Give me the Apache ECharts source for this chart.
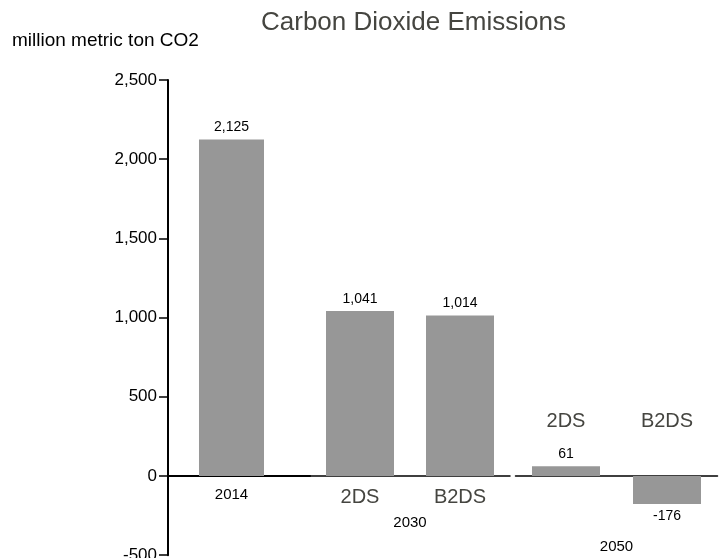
<!DOCTYPE html>
<html><head><meta charset="utf-8">
<script src="https://cdn.jsdelivr.net/npm/echarts@6/dist/echarts.min.js"></script>
<style>html,body{margin:0;padding:0;background:#fff}#c{width:728px;height:558px}</style>
</head><body><div id="c"></div>
<script>
// ---- data ----
const chartTitle = 'Carbon Dioxide Emissions';
const yAxisTitle = 'million metric ton CO2';
const cats2014 = ['2014'];
const cats2030 = ['2DS', 'B2DS'];
const cats2050 = ['2DS', 'B2DS'];
const group2030 = ['2030'];
const group2050 = ['2050'];
const values2014 = [2125];
const values2030 = [1041, 1014];
const values2050 = [61, -176];
const yMin = -500, yMax = 2500, yStep = 500;

const FONT = 'Liberation Sans, Arial, sans-serif';
const BAR = '#979797';
const fmt = v => Number(v).toLocaleString('en-US');
const toData = arr => arr.map(v => ({ value: v, label: { position: v < 0 ? 'bottom' : 'top' } }));
const barLabel = { show: true, fontSize: 14, color: '#000', fontFamily: FONT, distance: 5, formatter: p => fmt(p.value) };

const yBase = { type: 'value', min: yMin, max: yMax, interval: yStep, splitLine: { show: false } };
const gridBase = { top: 80, bottom: 2.8, containLabel: false, outerBoundsMode: 'none' };
const lblBase = { showMinLabel: true, showMaxLabel: true, hideOverlap: false, interval: 0, fontFamily: FONT };

const option = {
  animation: false,
  backgroundColor: '#fff',
  title: [
    { text: chartTitle, left: 256, top: 5, textStyle: { fontSize: 26, fontWeight: 'normal', color: '#454540', fontFamily: FONT } },
    { text: yAxisTitle, left: 7, top: 26, textStyle: { fontSize: 19, fontWeight: 'normal', color: '#000', fontFamily: FONT } }
  ],
  grid: [
    Object.assign({ left: 168, width: 142 }, gridBase),
    Object.assign({ left: 310, width: 200 }, gridBase),
    Object.assign({ left: 515.5, width: 202 }, gridBase)
  ],
  yAxis: [
    Object.assign({}, yBase, { gridIndex: 0,
      axisLine: { show: true, lineStyle: { color: '#000', width: 2 } },
      axisTick: { show: true, length: 9, lineStyle: { color: '#000', width: 1.5 } },
      axisLabel: { margin: 11, fontSize: 17, color: '#000', fontFamily: FONT, formatter: v => fmt(v) } }),
    Object.assign({}, yBase, { gridIndex: 1, show: false }),
    Object.assign({}, yBase, { gridIndex: 2, show: false })
  ],
  xAxis: [
    { type: 'category', gridIndex: 0, data: cats2014,
      axisLine: { onZero: true, lineStyle: { color: '#000', width: 2 } }, axisTick: { show: false },
      axisLabel: Object.assign({}, lblBase, { margin: -68, fontSize: 15, color: '#000', padding: [0, 15, 0, 0] }) },
    { type: 'category', gridIndex: 1, data: cats2030,
      axisLine: { onZero: true, lineStyle: { color: '#000', width: 1.5 } }, axisTick: { show: false },
      axisLabel: Object.assign({}, lblBase, { margin: -68, fontSize: 20, color: '#454540' }) },
    { type: 'category', gridIndex: 2, data: cats2050,
      axisLine: { onZero: true, lineStyle: { color: '#000', width: 1.5 } }, axisTick: { show: false },
      axisLabel: Object.assign({}, lblBase, { margin: -144, fontSize: 20, color: '#454540' }) },
    { type: 'category', gridIndex: 1, data: group2030, position: 'bottom',
      axisLine: { show: false, onZero: false }, axisTick: { show: false },
      axisLabel: Object.assign({}, lblBase, { margin: -40, fontSize: 15, color: '#000' }) },
    { type: 'category', gridIndex: 2, data: group2050, position: 'bottom',
      axisLine: { show: false, onZero: false }, axisTick: { show: false },
      axisLabel: Object.assign({}, lblBase, { margin: -16, fontSize: 15, color: '#000' }) }
  ],
  series: [
    { type: 'bar', xAxisIndex: 0, yAxisIndex: 0, data: toData(values2014), barWidth: 65, barGap: '-76.9%',
      itemStyle: { color: BAR }, label: barLabel },
    { type: 'bar', xAxisIndex: 0, yAxisIndex: 0, data: [], barWidth: 65, silent: true },
    { type: 'bar', xAxisIndex: 1, yAxisIndex: 1, data: toData(values2030), barWidth: 68,
      itemStyle: { color: BAR }, label: barLabel },
    { type: 'bar', xAxisIndex: 2, yAxisIndex: 2, data: toData(values2050), barWidth: 68,
      itemStyle: { color: BAR }, label: barLabel }
  ]
};
echarts.init(document.getElementById('c'), null, { renderer: 'canvas' }).setOption(option);
</script>
</body></html>
